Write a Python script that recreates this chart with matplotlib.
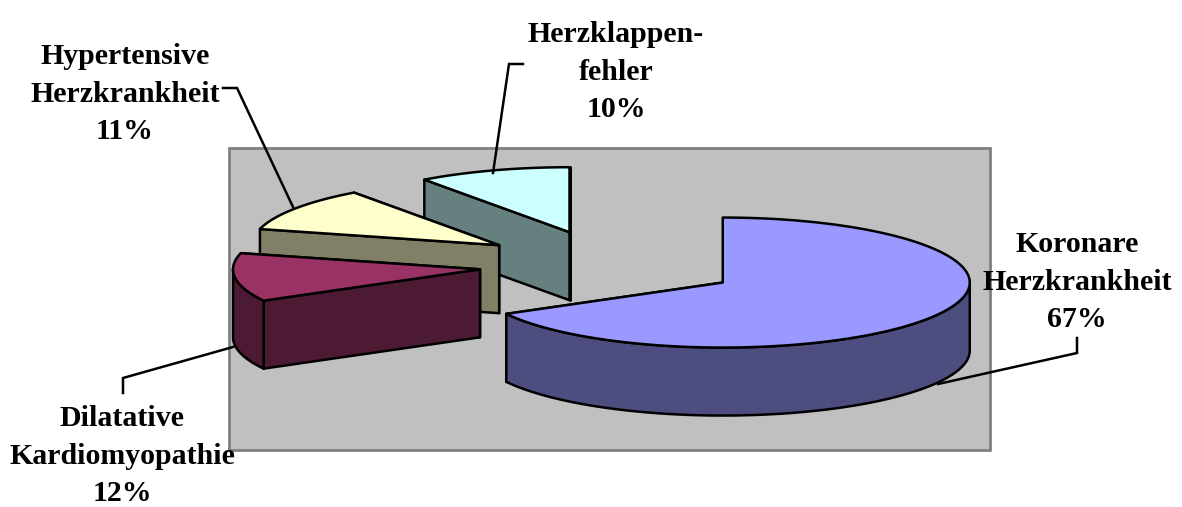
import numpy as np
import matplotlib.pyplot as plt
from matplotlib.patches import Polygon, Rectangle

# Share of each diagnosis in percent, clockwise from 12 o'clock
names = ['Koronare\nHerzkrankheit', 'Dilatative\nKardiomyopathie',
         'Hypertensive\nHerzkrankheit', 'Herzklappen-\nfehler']
values = [67, 12, 11, 10]
top_colors = ['#9999FF', '#993366', '#FFFFCC', '#CCFFFF']
side_colors = ['#4D4D80', '#4D1A33', '#808066', '#668080']

# Pie geometry in pixels
center_x, center_y = 610, 265
radius_x, radius_y = 247, 65
explode = [131, 131, 134, 131]
depth = 68

# Label centres and leader lines, same order as the slices
label_pos = [(1077, 282), (122, 456), (125, 94), (616, 72)]
leaders = [
    [(1077, 338), (1077, 353), (938, 384)],
    [(123, 393), (123, 378), (233, 347)],
    [(223, 88), (237, 88), (293, 207)],
    [(523, 64), (509, 64), (493, 173)],
]


def rim_point(apex, deg):
    a = np.radians(deg)
    return apex[0] + radius_x * np.sin(a), apex[1] - radius_y * np.cos(a)


def extrude(points):
    # Wall hanging below a run of top-surface points
    lower = [(x, y + depth) for x, y in reversed(points)]
    return list(points) + lower


def draw_slice(ax, start, end, offset, top, side):
    mid = np.radians((start + end) / 2)
    apex = (center_x + offset * np.sin(mid),
            center_y - offset * radius_y / radius_x * np.cos(mid))
    style = dict(edgecolor='black', linewidth=1.8, joinstyle='round')

    # Cut faces first, rim and top lie over whatever is hidden
    for deg in (end, start):
        wall = extrude([apex, rim_point(apex, deg)])
        ax.add_patch(Polygon(wall, facecolor=side, **style))

    # Only the part of the rim facing the viewer
    lo, hi = max(start, 90), min(end, 270)
    if hi > lo:
        arc = [rim_point(apex, d) for d in np.linspace(lo, hi, 120)]
        ax.add_patch(Polygon(extrude(arc), facecolor=side, **style))

    steps = np.linspace(start, end, 200)
    outline = [apex] + [rim_point(apex, d) for d in steps]
    ax.add_patch(Polygon(outline, facecolor=top, **style))


fig = plt.figure(figsize=(11.82, 5.07), dpi=100, facecolor='white')
ax = fig.add_axes([0, 0, 1, 1])
ax.set_xlim(0, 1182)
ax.set_ylim(507, 0)
ax.axis('off')

# Plot area
ax.add_patch(Rectangle((229, 148), 761, 302, facecolor='#C0C0C0',
                       edgecolor='#808080', linewidth=2))

# Angles of the slices, drawn back to front
angles = np.cumsum([0] + values) * 3.6
for i in [3, 2, 1, 0]:
    draw_slice(ax, angles[i], angles[i + 1], explode[i],
               top_colors[i], side_colors[i])

for path in leaders:
    xs, ys = zip(*path)
    ax.plot(xs, ys, color='black', linewidth=1.8, solid_joinstyle='miter')

for name, value, (x, y) in zip(names, values, label_pos):
    ax.text(x, y, f'{name}\n{value}%', ha='center', va='center',
            family='Liberation Serif', fontweight='bold', fontsize=21.5,
            linespacing=1.5, color='black')

fig.savefig('out.png', dpi=100)
